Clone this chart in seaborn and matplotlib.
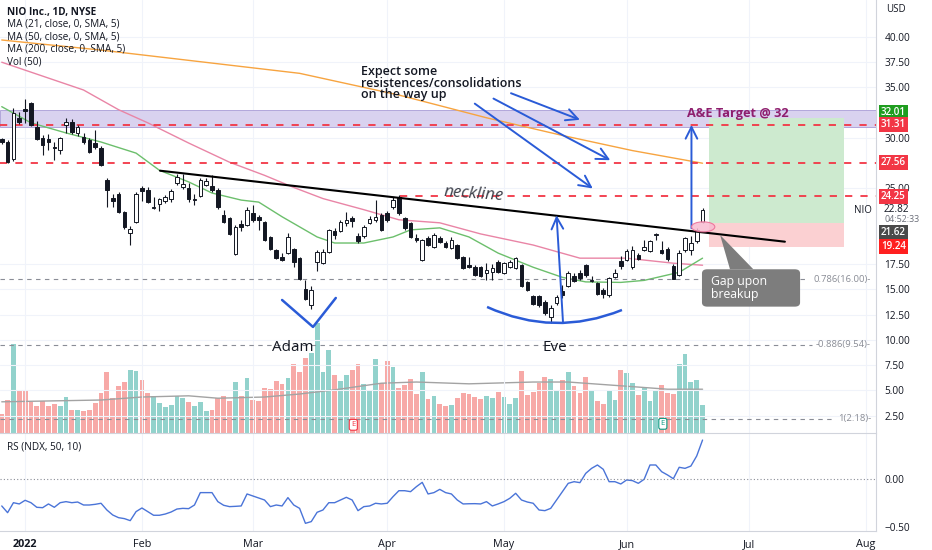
import numpy as np
import pandas as pd
import seaborn as sns
import matplotlib.pyplot as plt
from matplotlib.patches import Rectangle, Ellipse, FancyBboxPatch, Polygon, PathPatch
from matplotlib.path import Path

sns.set_theme(style="white")
plt.rcParams['font.family'] = ['Open Sans', 'DejaVu Sans']

# daily candles, NIO, 28 Dec 2021 .. 21 Jun 2022 (bar index 0..120)
opens = [29.9, 29.6, 27.9, 32.0, 32.9, 33.5, 31.1, 30.0, 29.9, 29.15,
         28.8, 31.3, 31.6, 30.5, 30.1, 29.8, 29.5, 29.0, 25.85, 24.1,
         24.5, 22.7, 20.6, 21.7, 25.0, 24.85, 23.05, 23.45, 23.8, 23.95,
         25.5, 25.1, 25.0, 23.85, 24.25, 25.35, 25.25, 24.85, 22.4, 22.05,
         18.5, 21.5, 21.4, 22.55, 22.2, 21.7, 20.2, 18.9, 18.25, 18.6,
         19.0, 18.1, 15.0, 13.45, 17.75, 17.6, 18.75, 20.8, 20.8, 21.6,
         22.05, 20.3, 20.3, 21.6, 21.9, 22.4, 22.55, 23.2, 24.2, 22.05,
         21.55, 20.05, 17.9, 20.05, 19.25, 20.05, 19.6, 19.1, 19.4, 18.25,
         17.4, 17.25, 17.25, 16.6, 16.75, 17.75, 16.6, 17.25, 17.1, 17.4,
         15.7, 14.35, 14.35, 13.8, 12.3, 13.7, 14.8, 15.3, 16.3, 16.6,
         17.4, 15.8, 15.6, 14.95, 14.45, 16.2, 17.85, 17.9, 17.2, 18.4,
         18.9, 18.85, 20.35, 18.9, 19.0, 17.3, 16.4, 18.9, 18.9, 19.75,
         21.7]
closes = [29.6, 27.65, 32.5, 31.6, 32.7, 31.3, 29.9, 29.35, 29.65, 29.0,
          30.0, 31.6, 30.6, 31.1, 29.6, 28.65, 29.15, 27.3, 24.85, 23.8,
          22.7, 21.15, 20.95, 24.5, 24.75, 23.7, 23.2, 23.95, 24.15, 24.75,
          26.1, 25.4, 24.0, 24.0, 25.8, 25.7, 24.8, 23.2, 21.7, 20.5,
          21.2, 21.2, 22.85, 21.9, 21.9, 19.9, 19.0, 18.1, 17.95, 20.2,
          17.75, 16.0, 14.1, 14.95, 18.75, 18.75, 20.9, 20.4, 21.7, 21.9,
          21.75, 19.8, 21.2, 21.95, 22.2, 20.9, 21.9, 23.85, 22.55, 21.05,
          20.2, 19.9, 19.9, 19.45, 20.4, 19.7, 19.2, 19.9, 18.1, 17.1,
          17.25, 16.4, 16.3, 16.9, 17.1, 16.75, 17.6, 17.75, 18.1, 15.3,
          14.9, 13.6, 13.45, 12.65, 13.15, 14.3, 14.45, 16.6, 15.85, 16.1,
          16.4, 15.95, 14.6, 14.6, 16.1, 16.6, 17.3, 18.85, 18.9, 18.0,
          19.25, 19.75, 20.45, 18.65, 18.0, 16.0, 18.65, 20.05, 19.6, 20.9,
          22.82]
highs = [30.0, 29.8, 33.0, 32.6, 33.85, 33.6, 31.7, 30.3, 30.4, 29.6,
         30.1, 31.95, 31.9, 31.3, 30.5, 30.0, 30.8, 29.2, 26.0, 24.5,
         24.7, 22.8, 21.3, 24.7, 25.25, 25.1, 24.2, 24.1, 24.4, 24.9,
         26.4, 26.4, 25.5, 24.5, 26.0, 26.0, 26.35, 25.0, 22.9, 22.2,
         21.4, 21.9, 23.2, 23.4, 22.4, 21.8, 20.3, 19.0, 18.6, 20.6,
         19.1, 18.2, 15.9, 15.3, 18.9, 19.0, 21.0, 21.1, 21.9, 22.7,
         22.3, 20.6, 21.4, 22.3, 23.9, 22.6, 22.8, 24.2, 24.4, 22.2,
         21.7, 20.5, 20.0, 20.3, 20.6, 20.3, 19.8, 20.2, 19.5, 18.3,
         18.2, 17.4, 17.35, 17.6, 17.5, 17.9, 17.7, 17.9, 18.2, 17.5,
         15.8, 14.5, 14.45, 14.0, 13.5, 14.5, 15.4, 16.8, 16.6, 16.9,
         17.5, 16.3, 15.7, 15.1, 16.2, 17.0, 18.3, 19.0, 19.3, 18.6,
         19.9, 19.9, 20.6, 19.75, 19.2, 17.5, 18.9, 20.2, 20.25, 21.1,
         23.05]
lows = [29.4, 27.5, 27.7, 31.4, 31.5, 31.2, 29.8, 28.3, 28.8, 27.8,
        28.4, 30.5, 30.4, 30.2, 29.4, 28.5, 28.9, 27.2, 23.2, 23.2,
        22.6, 21.0, 19.4, 21.6, 23.8, 23.6, 22.95, 22.8, 23.6, 23.7,
        25.35, 24.95, 23.7, 23.4, 24.2, 25.2, 24.7, 23.0, 21.6, 20.4,
        18.4, 20.8, 21.3, 21.7, 20.9, 19.8, 18.9, 18.0, 17.8, 18.5,
        17.25, 15.9, 13.95, 13.1, 16.85, 17.5, 18.6, 20.0, 20.7, 21.3,
        21.2, 19.6, 20.1, 21.5, 21.7, 20.8, 21.7, 23.0, 22.4, 20.9,
        20.1, 19.7, 17.8, 19.3, 19.1, 19.6, 19.1, 19.0, 18.0, 17.0,
        17.1, 16.3, 16.2, 15.95, 15.95, 16.6, 16.5, 17.1, 17.0, 15.2,
        14.8, 13.5, 13.3, 12.5, 11.7, 13.5, 14.2, 15.2, 15.7, 15.95,
        16.2, 15.7, 14.5, 14.2, 14.3, 16.1, 17.0, 17.8, 17.0, 17.9,
        18.8, 18.7, 19.9, 18.5, 17.8, 16.0, 16.3, 18.7, 18.4, 19.6,
        21.6]
volumes = [32, 55, 148, 72, 70, 52, 45, 53, 45, 48,
           45, 60, 38, 38, 37, 38, 50, 67, 102, 58,
           78, 85, 105, 103, 88, 67, 62, 50, 43, 47,
           62, 58, 52, 45, 52, 37, 38, 58, 62, 53,
           85, 62, 92, 55, 53, 75, 73, 87, 82, 92,
           115, 102, 125, 133, 183, 102, 138, 97, 87, 97,
           105, 115, 82, 72, 123, 83, 120, 110, 75, 80,
           90, 65, 102, 57, 62, 48, 45, 47, 58, 67,
           65, 60, 57, 62, 58, 68, 60, 48, 58, 103,
           63, 68, 83, 93, 90, 70, 88, 102, 78, 67,
           93, 72, 53, 48, 70, 55, 105, 100, 83, 63,
           75, 53, 70, 80, 67, 65, 115, 132, 85, 88,
           47]
rs_values = [-0.281, -0.351, -0.247, -0.260, -0.222, -0.247, -0.295, -0.299, -0.260, -0.295,
             -0.247, -0.236, -0.247, -0.240, -0.271, -0.271, -0.264, -0.253, -0.323, -0.375,
             -0.403, -0.413, -0.434, -0.340, -0.302, -0.340, -0.378, -0.378, -0.365, -0.344,
             -0.313, -0.306, -0.309, -0.271, -0.142, -0.142, -0.142, -0.236, -0.274, -0.288,
             -0.285, -0.281, -0.156, -0.177, -0.198, -0.219, -0.288, -0.271, -0.281, -0.194,
             -0.271, -0.306, -0.462, -0.444, -0.347, -0.323, -0.247, -0.247, -0.219, -0.191,
             -0.219, -0.330, -0.288, -0.281, -0.253, -0.260, -0.253, -0.184, -0.122, -0.122,
             -0.132, -0.080, -0.035, -0.156, -0.142, -0.108, -0.142, -0.156, -0.219, -0.260,
             -0.258, -0.257, -0.260, -0.236, -0.281, -0.260, -0.236, -0.201, -0.149, -0.219,
             -0.240, -0.253, -0.323, -0.330, -0.306, -0.219, -0.132, -0.045, -0.028, -0.038,
             0.059, 0.111, 0.146, 0.101, -0.028, -0.028, -0.052, -0.010, -0.017, -0.045,
             -0.003, 0.146, 0.146, 0.076, 0.042, 0.003, 0.122, 0.111, 0.135, 0.240,
             0.406]

# moving averages (bar index, value)
ma21_idx = [0, 5, 11, 17, 23, 27, 32, 36, 41, 44, 48, 54, 57, 62, 67, 70, 75, 80, 85, 91, 96, 100, 106, 110, 116, 120]
ma21_val = [33.1, 31.5, 30.5, 29.6, 28.5, 26.8, 25.65, 24.55, 23.85, 23.65, 22.2, 20.2, 19.6, 19.6, 20.2, 20.9,
            21.1, 20.2, 18.6, 17.2, 16.2, 15.75, 15.7, 15.9, 16.7, 18.1]
ma50_idx = [0, 14, 20, 25, 32, 39, 45, 50, 55, 62, 68, 75, 82, 91, 99, 107, 115, 120]
ma50_val = [37.5, 34.75, 32.8, 31.5, 29.5, 27.6, 26.3, 25.1, 24.0, 22.9, 21.9, 21.6, 20.5, 19.4, 18.1, 18.1, 17.6, 17.4]
ma200_idx = [0, 17, 34, 51, 68, 83, 96, 108, 120]
ma200_val = [39.7, 38.7, 37.55, 36.4, 34.25, 32.0, 30.25, 28.75, 27.5]
volma_idx = [0, 17, 24, 32, 37, 45, 51, 57, 65, 71, 80, 91, 97, 107, 114, 120]
volma_val = [52, 55, 60, 62, 58, 60, 65, 72, 83, 85, 82, 85, 85, 78, 73, 73]

month_pos = [4, 24, 43, 66, 86, 107, 128, 148]
month_lbl = ["2022", "Feb", "Mar", "Apr", "May", "Jun", "Jul", "Aug"]
price_ticks = [2.5, 5, 7.5, 10, 12.5, 15, 17.5, 25, 30, 35, 37.5, 40]

resist_levels = [31.31, 27.56]
fib_levels = [16.00, 9.54, 2.18]
fib_labels = ["0.786(16.00)-", "-0.886(9.54)-", "1(2.18)-"]

# price-scale markers: value, where the label sits (pushed apart as on the chart), colour
marker_vals = [32.01, 31.31, 27.56, 24.25, 21.62, 19.24]
marker_pos = [32.57, 31.29, 27.56, 24.25, 20.62, 19.22]
marker_cols = ["#1f9d1f", "#f23645", "#f23645", "#f23645", "#4a4a4a", "#ff1f1f"]

df = pd.DataFrame({"open": opens, "high": highs, "low": lows, "close": closes, "volume": volumes})
df["idx"] = np.arange(len(df))
df["up"] = df["close"] >= df["open"]

INK = "#131722"
GRID = "#f0f3fa"
BLUE = "#2a5bd7"
XMIN, XMAX = -0.3, 149.7

fig = plt.figure(figsize=(9.32, 5.5), dpi=100)
ax = fig.add_axes([0, 117 / 550, 876 / 932, 433 / 550])
vax = ax.twinx()
rax = fig.add_axes([0, 19 / 550, 876 / 932, 97 / 550])

# volume overlay
vcol = np.where(df["up"], "#92d2cc", "#f7a9a7")
vax.bar(df["idx"], df["volume"], width=0.82, color=vcol, linewidth=0)
sns.lineplot(x=volma_idx, y=volma_val, ax=vax, color="#a3a3a3", lw=1.0, estimator=None)
vax.set_ylim(0, 722)
vax.set_xlim(XMIN, XMAX)
vax.set_yticks([])
vax.set_ylabel("")
for s in vax.spines.values():
    s.set_visible(False)
vax.set_zorder(1)
ax.set_zorder(2)
ax.patch.set_visible(False)

# main price pane
ax.set_xlim(XMIN, XMAX)
ax.set_ylim(0.79, 43.66)
ax.set_xticks(month_pos)
ax.set_xticklabels([])
ax.yaxis.tick_right()
ax.set_yticks(price_ticks)
ax.set_yticklabels([f"{t:.2f}" for t in price_ticks])
ax.tick_params(axis="both", length=0)
ax.tick_params(axis="y", pad=6, labelsize=7.3, labelcolor=INK)
ax.grid(True, color=GRID, lw=0.8)
for name, s in ax.spines.items():
    s.set_visible(name in ("right", "bottom"))
    s.set_color("#d1d4dc")
    s.set_linewidth(0.8)

ax.add_patch(Rectangle((XMIN, 31.12), XMAX - XMIN, 1.65, facecolor="#d9d2ef", edgecolor="#a99cd6", lw=0.6, zorder=1))
ax.add_patch(Rectangle((121.1, 21.62), 23.1, 32.01 - 21.62, facecolor="#cdeacf", edgecolor="none", zorder=1))
ax.add_patch(Rectangle((121.1, 19.24), 23.1, 21.62 - 19.24, facecolor="#fbd0d2", edgecolor="none", zorder=1))

sns.lineplot(x=ma200_idx, y=ma200_val, ax=ax, color="#f7a440", lw=1.0, estimator=None, zorder=2)
sns.lineplot(x=ma50_idx, y=ma50_val, ax=ax, color="#e985a6", lw=1.0, estimator=None, zorder=2)
sns.lineplot(x=ma21_idx, y=ma21_val, ax=ax, color="#6cbf6c", lw=1.0, estimator=None, zorder=2)

for lvl in resist_levels:
    ax.hlines(lvl, XMIN, XMAX, color="#f23645", lw=1.3, linestyles=(0, (4, 4.5)), zorder=3)
ax.hlines(24.25, 68.2, XMAX, color="#f23645", lw=1.3, linestyles=(0, (4, 4.5)), zorder=3)

fib_end = [137.5, 138.8, 142.5]
for lvl, lab, xe in zip(fib_levels, fib_labels, fib_end):
    ax.hlines(lvl, XMIN, xe, color="#8a8d96", lw=0.8, linestyles=(0, (4, 4)), zorder=2)
    ax.text(148.8, lvl, lab, ha="right", va="center", fontsize=6.8, color="#8a8d96", zorder=3)

# candles
body_lo = np.minimum(df["open"], df["close"])
body_h = np.maximum((df["close"] - df["open"]).abs(), 0.08)
ax.vlines(df["idx"], df["low"], df["high"], color=INK, lw=0.8, zorder=4)
up = df["up"].values
ax.bar(df["idx"][up], body_h[up], bottom=body_lo[up], width=0.62, color="white", edgecolor=INK, lw=0.7, zorder=5)
ax.bar(df["idx"][~up], body_h[~up], bottom=body_lo[~up], width=0.62, color=INK, edgecolor=INK, lw=0.7, zorder=5)

# drawings
ax.plot([27.1, 134.1], [26.76, 19.73], color="black", lw=1.5, zorder=6)
arrow = dict(arrowstyle="->,head_length=0.7,head_width=0.35", color=BLUE, lw=1.4, shrinkA=0, shrinkB=0)
for (x0, y0), (x1, y1) in [((96.1, 11.8), (95.0, 22.35)), ((118.1, 21.06), (118.1, 31.3)),
                           ((87.2, 34.43), (99.0, 31.8)), ((84.2, 33.9), (104.2, 27.8)),
                           ((81.0, 33.4), (101.2, 25.0))]:
    ax.annotate("", xy=(x1, y1), xytext=(x0, y0), arrowprops=arrow, zorder=7)
ax.plot([48.0, 53.3, 57.2], [13.96, 11.29, 14.16], color=BLUE, lw=1.8, zorder=7, solid_capstyle="round")
eve = Path([(83.1, 13.27), (94.6, 10.25), (106.2, 12.97)], [Path.MOVETO, Path.CURVE3, Path.CURVE3])
ax.add_patch(PathPatch(eve, facecolor="none", edgecolor=BLUE, lw=1.8, zorder=7))
ax.add_patch(Ellipse((120.1, 21.2), 4.0, 1.0, facecolor="#f8bbd0", edgecolor="#ec6a94", lw=0.8, alpha=0.85, zorder=7))

ax.add_patch(Polygon([(124.7, 17.0), (128.7, 17.0), (123.0, 20.4)], closed=True, facecolor="#7d7d7d", edgecolor="none", zorder=7))
ax.add_patch(FancyBboxPatch((119.9, 13.3), 16.8, 3.7, boxstyle="round,pad=0,rounding_size=0.9",
                            mutation_aspect=0.45, facecolor="#7d7d7d", edgecolor="none", zorder=7))
ax.text(121.4, 15.15, "Gap upon\nbreakup", ha="left", va="center", fontsize=8.8, color="white", linespacing=0.92, zorder=8)

ax.text(80.9, 24.4, "neckline", ha="center", va="center", fontsize=12, style="italic", color="#3b3e48", rotation=-4, zorder=8)
ax.text(61.6, 37.2, "Expect some\nresistences/consolidations\non the way up", ha="left", va="top",
        fontsize=9, fontweight="semibold", color=INK, linespacing=0.85, zorder=8)
ax.text(117.4, 32.45, "A&E Target @ 32", ha="left", va="center", fontsize=9.2, fontweight="bold", color="#8e1e6e", zorder=8)
ax.text(49.9, 9.3, "Adam", ha="center", va="center", fontsize=11, color=INK, zorder=8)
ax.text(94.7, 9.3, "Eve", ha="center", va="center", fontsize=11, color=INK, zorder=8)
ax.text(60.2, 1.6, "E", ha="center", va="center", fontsize=5.5, color="#f23645", zorder=8,
        bbox=dict(boxstyle="round,pad=0.25", facecolor="white", edgecolor="#f23645", lw=0.8))
ax.text(113.2, 1.7, "E", ha="center", va="center", fontsize=5.5, color="#089981", zorder=8,
        bbox=dict(boxstyle="round,pad=0.25", facecolor="white", edgecolor="#089981", lw=0.8))

# price-axis markers
ytr = ax.get_yaxis_transform()
for val, pos, col in zip(marker_vals, marker_pos, marker_cols):
    ax.text(1.0055, pos, f"{val:.2f}", transform=ytr, ha="left", va="center", fontsize=7.1, color="white",
            fontweight="semibold", clip_on=False, zorder=10,
            bbox=dict(boxstyle="square,pad=0.2", facecolor=col, edgecolor="none"))
ax.text(1.0092, 22.87, "22.82", transform=ytr, ha="left", va="center", fontsize=7.3, color=INK, clip_on=False, zorder=10)
ax.text(1.0092, 21.88, "04:52:33", transform=ytr, ha="left", va="center", fontsize=6.4, color="#6a6d78", clip_on=False, zorder=10)
ax.text(0.985, 22.82, "NIO", transform=ytr, ha="center", va="center", fontsize=7, color=INK, zorder=10)

# relative strength pane
sns.lineplot(x=df["idx"], y=rs_values, ax=rax, color="#4a74d8", lw=1.0, estimator=None)
rax.axhline(0, color="#8a8d96", lw=0.8, ls=(0, (1, 2)))
rax.set_xlim(XMIN, XMAX)
rax.set_ylim(-0.542, 0.469)
rax.yaxis.tick_right()
rax.set_yticks([0.0, -0.5])
rax.set_yticklabels(["0.00", "\u22120.50"])
rax.set_xticks(month_pos)
rax.set_xticklabels(month_lbl)
rax.set_xlabel("")
rax.set_ylabel("")
rax.tick_params(axis="both", length=0, labelsize=7.8, labelcolor=INK)
rax.tick_params(axis="x", pad=6)
rax.tick_params(axis="y", pad=6, labelsize=7.3)
rax.get_xticklabels()[0].set_fontweight("bold")
rax.grid(True, axis="x", color=GRID, lw=0.8)
rax.patch.set_visible(False)
for name, s in rax.spines.items():
    s.set_visible(name in ("right", "bottom"))
    s.set_color("#d1d4dc")
    s.set_linewidth(0.8)
ax.set_xlabel("")
ax.set_ylabel("")

# header texts
fig.text(7 / 932, 1 - 12 / 550, "NIO Inc., 1D, NYSE", fontsize=7.2, fontweight="bold", color=INK, va="center")
for i, t in enumerate(["MA (21, close, 0, SMA, 5)", "MA (50, close, 0, SMA, 5)",
                       "MA (200, close, 0, SMA, 5)", "Vol (50)"]):
    fig.text(7 / 932, 1 - (24.5 + 12.4 * i) / 550, t, fontsize=7.2, color=INK, va="center")
fig.text(7 / 932, 1 - 447 / 550, "RS (NDX, 50, 10)", fontsize=7.2, color=INK, va="center")
fig.text(886 / 932, 1 - 10 / 550, "USD", fontsize=7, color=INK, va="center")

fig.savefig("out.png", dpi=100, facecolor="white")
